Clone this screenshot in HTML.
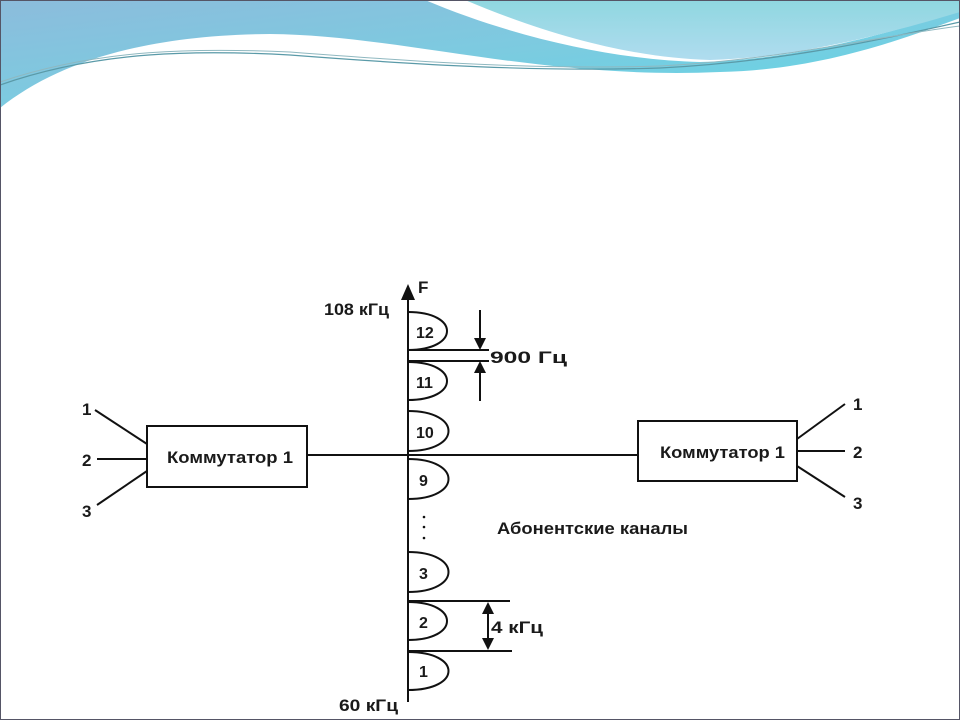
<!DOCTYPE html>
<html><head><meta charset="utf-8"><style>
html,body{margin:0;padding:0;background:#fff}
svg{display:block}
text{font-family:"Liberation Sans",Arial,sans-serif;fill:#1a1a1a;font-weight:bold}
</style></head><body>
<svg width="960" height="720" viewBox="0 0 960 720" xmlns="http://www.w3.org/2000/svg">
<defs>
<linearGradient id="g1" x1="0" y1="0" x2="1" y2="1"><stop offset="0" stop-color="#8cbcdc"/><stop offset="0.5" stop-color="#7ccbe0"/><stop offset="1" stop-color="#5fd6e6"/></linearGradient>
<linearGradient id="g2" x1="0" y1="0" x2="0" y2="1"><stop offset="0" stop-color="#8fd7e0"/><stop offset="1" stop-color="#b0dcef"/></linearGradient>
</defs>
<rect width="960" height="720" fill="#fff"/>
<path d="M0,108 C60,60 150,35 270,34 C400,35 540,80 720,72 C820,70 900,40 960,18 L960,0 L0,0 Z" fill="url(#g1)"/>
<path d="M425,0 C520,40 620,60 700,62 C800,60 900,30 960,10 L960,0 Z" fill="#fff"/>
<path d="M465,0 C560,40 640,58 710,60 C800,58 900,30 960,12 L960,0 Z" fill="url(#g2)"/>
<path d="M0,85 C100,50 200,50 290,55 C420,65 540,72 660,68 C780,62 880,40 960,22" fill="none" stroke="#5a9aa8" stroke-width="1.2"/>
<path d="M0,82 C100,48 200,48 290,52 C420,62 540,70 660,66 C780,60 880,36 960,26" fill="none" stroke="#8fb8c0" stroke-width="1"/>
<rect x="0.5" y="0.5" width="959" height="719" fill="none" stroke="#556" stroke-width="1"/>

<g stroke="#111" stroke-width="2" fill="none">
<line x1="408" y1="298" x2="408" y2="702"/>
<path d="M408,312 C460,312 460,350 408,350"/>
<path d="M408,362 C460,362 460,400 408,400"/>
<path d="M408,411 C462,411 462,451 408,451"/>
<path d="M408,459 C462,459 462,499 408,499"/>
<path d="M408,552 C462,552 462,592 408,592"/>
<path d="M408,602 C460,602 460,640 408,640"/>
<path d="M408,652 C462,652 462,690 408,690"/>
<line x1="408" y1="350" x2="489" y2="350"/>
<line x1="408" y1="361" x2="489" y2="361"/>
<line x1="480" y1="310" x2="480" y2="340"/>
<line x1="480" y1="372" x2="480" y2="401"/>
<line x1="408" y1="601" x2="510" y2="601"/>
<line x1="408" y1="651" x2="512" y2="651"/>
<line x1="488" y1="612" x2="488" y2="640"/>
<line x1="307" y1="455" x2="638" y2="455"/>
<rect x="147" y="426" width="160" height="61"/>
<rect x="638" y="421" width="159" height="60"/>
<line x1="95" y1="410" x2="147" y2="444"/>
<line x1="97" y1="459" x2="147" y2="459"/>
<line x1="97" y1="505" x2="147" y2="471"/>
<line x1="797" y1="439" x2="845" y2="404"/>
<line x1="797" y1="451" x2="845" y2="451"/>
<line x1="797" y1="466" x2="845" y2="497"/>
</g>
<g fill="#111">
<polygon points="408,284 401,300 415,300"/>
<polygon points="480,350 474,338 486,338"/>
<polygon points="480,361 474,373 486,373"/>
<polygon points="488,602 482,614 494,614"/>
<polygon points="488,650 482,638 494,638"/>
<circle cx="424" cy="517" r="1.3"/><circle cx="424" cy="527" r="1.3"/><circle cx="424" cy="538" r="1.3"/>
</g>
<g font-size="17">
<text x="418" y="293">F</text>
<text x="324" y="315" textLength="65" lengthAdjust="spacingAndGlyphs">108 кГц</text>
<text x="490" y="363" textLength="77" lengthAdjust="spacingAndGlyphs">900 Гц</text>
<text x="491" y="633" textLength="52" lengthAdjust="spacingAndGlyphs">4 кГц</text>
<text x="339" y="711" textLength="59" lengthAdjust="spacingAndGlyphs">60 кГц</text>
<text x="497" y="534" textLength="191" lengthAdjust="spacingAndGlyphs">Абонентские каналы</text>
<text x="167" y="463" textLength="126" lengthAdjust="spacingAndGlyphs">Коммутатор 1</text>
<text x="660" y="458" textLength="125" lengthAdjust="spacingAndGlyphs">Коммутатор 1</text>
<text x="82" y="415">1</text>
<text x="82" y="466">2</text>
<text x="82" y="517">3</text>
<text x="853" y="410">1</text>
<text x="853" y="458">2</text>
<text x="853" y="509">3</text>
</g>
<g font-size="16">
<text x="416" y="338">12</text>
<text x="416" y="388">11</text>
<text x="416" y="438">10</text>
<text x="419" y="486">9</text>
<text x="419" y="579">3</text>
<text x="419" y="628">2</text>
<text x="419" y="677">1</text>
</g>
</svg>
</body></html>
